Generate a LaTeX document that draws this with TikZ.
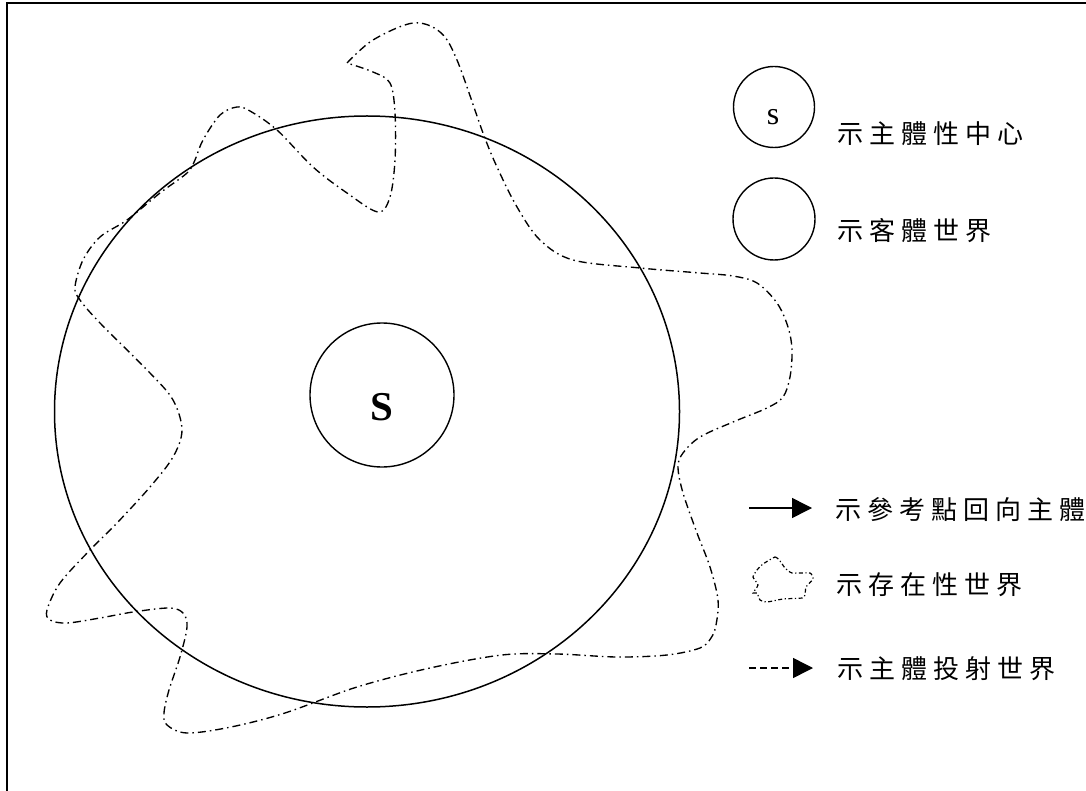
\documentclass[tikz,border=0pt]{standalone}
\usepackage{fontspec}
\setmainfont{Liberation Serif}
\newfontfamily\cjk{Noto Sans CJK TC}
\usetikzlibrary{arrows.meta,shapes.geometric}
\def\ltrsp#1{\ifx\relax#1\else#1\kern6pt\expandafter\ltrsp\fi}
\begin{document}
\begin{tikzpicture}[x=1pt,y=-1pt,
  frameline/.style={line width=2pt},
  ring/.style={draw, circle, line width=1.4pt, inner sep=0pt},
  exist/.style={line width=1.35pt, dash pattern=on 8pt off 4pt on 1.5pt off 4pt},
  existsmall/.style={line width=1.2pt, dash pattern=on 4pt off 2.5pt on 1.2pt off 2.5pt},
  legtext/.style={font=\fontsize{26}{30}\selectfont\cjk, anchor=west, inner sep=0pt},
  legarrow/.style={line width=1.5pt, -{Triangle[length=20pt,width=20pt]}},
  projarrow/.style={line width=1.5pt, dash pattern=on 7pt off 4pt, -{Triangle[length=20pt,width=20pt]}}
]
\useasboundingbox (0,0) rectangle (1086,791);
\fill[white] (0,0) rectangle (1086,791);
% frame
\draw[frameline] (1086,3) -- (7,3) -- (7,791);

% objective world (big circle)
\node[draw, ellipse, line width=1.5pt, inner sep=0pt, minimum width=625pt, minimum height=591pt] (objworld) at (367,411.5) {};

% subject centre
\node[ring, minimum size=144pt] (subj) at (382,395) {};
\node[font=\fontsize{41}{41}\selectfont\bfseries, inner sep=0pt] (subjS) at (382,407) {S};

% existential world (dash-dot wavy closed line)
\draw[exist] plot[smooth, tension=0.55] coordinates {
(347,63) (373,40) (413,23) (440,32) (457,60) (483,133) (497,167) (517,207)
(540,240) (573,260) (640,268) (700,273) (733,276) (757,283) (777,303) (788,327)
(792,350) (790,377) (783,397) (767,408) (733,422) (700,437) (683,453) (678,467)
(683,493) (697,533) (710,567) (718,600) (716,625) (711,638) (700,648) (667,655)
(617,657) (557,654) (502,655) (430,668) (357,687) (285,713) (231,727) (187,733)
(167,725) (164,713) (169,690) (180,657) (187,627) (183,613) (169,608) (133,612)
(100,618) (67,623) (50,620) (47,610) (60,583) (90,550) (117,523) (150,487)
(173,457) (182,430) (173,400) (150,373) (100,323) (80,300) (75,287) (83,260)
(100,237) (127,220) (160,193) (187,173) (195,160) (203,140) (220,115) (237,107)
(250,111) (277,130) (313,167) (347,193) (378,212) (390,197) (395,160) (395,113)
(390,83) (373,72) (347,63)};

% legend
\node[ring, minimum size=81pt] (legS) at (774,107) {};
\node[font=\fontsize{32}{32}\selectfont, inner sep=0pt] (legSs) at (773,117) {s};
\node[legtext] (t1) at (837,134) {\ltrsp 示主體性中心\relax};

\node[ring, minimum size=82pt] (legO) at (774,219) {};
\node[legtext] (t2) at (837,231) {\ltrsp 示客體世界\relax};

\coordinate (a1s) at (749,508);
\coordinate (a1e) at (812,508);
\draw[legarrow] (a1s) -- (a1e);
\node[legtext] (t3) at (835,510) {\ltrsp 示參考點回向主體\relax};

\draw[existsmall] plot[smooth cycle, tension=0.3] coordinates {
(763,564) (775,557) (780,561) (785,568) (792,573) (810,573) (813,579) (806,587)
(805,595) (802,598) (783,599) (767,602) (760,600) (757,593) (753,593) (758,585)
(753,577) (757,570)};
\node[legtext] (t4) at (836,585) {\ltrsp 示存在性世界\relax};

\coordinate (a2s) at (749,668);
\coordinate (a2e) at (813,668);
\draw[projarrow] (a2s) -- (a2e);
\node[legtext] (t5) at (837,669) {\ltrsp 示主體投射世界\relax};
\end{tikzpicture}
\end{document}
